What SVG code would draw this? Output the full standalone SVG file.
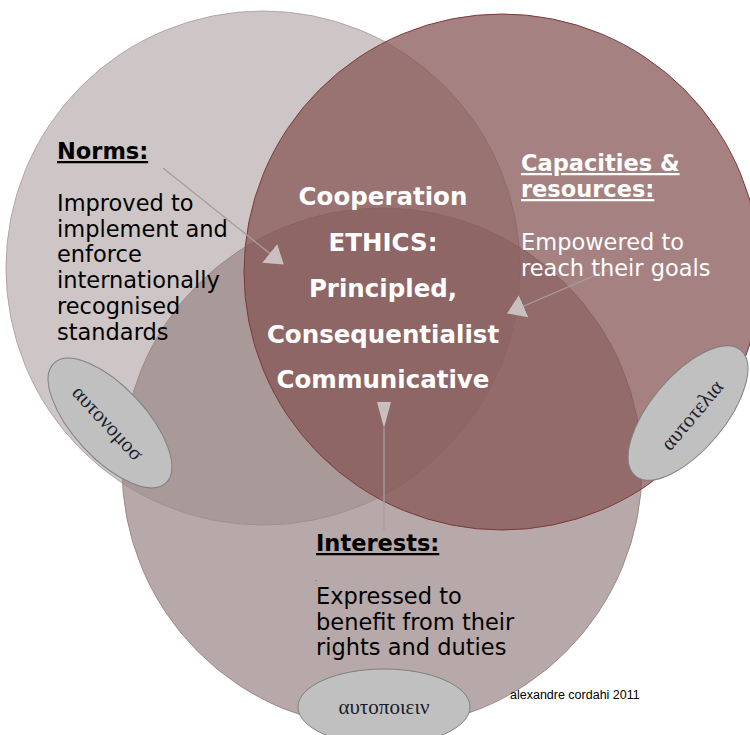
<svg xmlns="http://www.w3.org/2000/svg" width="750" height="735" viewBox="0 0 750 735">
<style>
.lbl{font-family:"DejaVu Sans","Verdana",sans-serif;font-size:22.5px;fill:#000}
.head{font-family:"DejaVu Sans","Verdana",sans-serif;font-size:22.5px;font-weight:bold;text-decoration:underline}
.ctr{font-family:"DejaVu Sans","Verdana",sans-serif;font-size:24.5px;font-weight:bold;fill:#fff;text-anchor:middle}
.wht{fill:#fff}
.greek{font-family:"Liberation Serif","DejaVu Serif",serif;font-size:21px;fill:#1c1c2c;text-anchor:middle}
.oval{fill:#c0c0c0;stroke:#808080;stroke-width:1}
.conn{stroke:#a89c9c;stroke-width:1.3;fill:none}
.ah{fill:#c9bfbf}
</style>
<defs>
<marker id="arr" viewBox="0 0 18 24" refX="17" refY="12" markerWidth="18" markerHeight="24" markerUnits="userSpaceOnUse" orient="auto">
<path d="M0,0 L18,12 L0,24 z" class="ah"/>
</marker>
</defs>
<g id="circle-norms"><circle cx="263" cy="268" r="257" fill="#cec6c6" stroke="#b3a6a6" stroke-width="1"/></g>
<g id="circle-interests"><circle cx="382" cy="468" r="260" fill="#9a8686" fill-opacity="0.71" stroke="#a08888" stroke-width="1"/></g>
<g id="circle-capacities"><circle cx="502" cy="272" r="258" fill="#845452" fill-opacity="0.73" stroke="#7d3a3a" stroke-width="1"/></g>

<g id="connectors">
<line class="conn" x1="163" y1="168" x2="283" y2="264" marker-end="url(#arr)"/>
<line class="conn" x1="612" y1="268" x2="508" y2="313" marker-end="url(#arr)"/>
<line class="conn" x1="384" y1="428" x2="384" y2="530"/>
<polygon class="ah" points="377,402 391,402 384,428"/>
</g>

<g id="norms">
<text class="head" x="57" y="159">Norms:</text>
<text class="lbl" x="57" y="211">Improved to</text>
<text class="lbl" x="57" y="237">implement and</text>
<text class="lbl" x="57" y="262">enforce</text>
<text class="lbl" x="57" y="288">internationally</text>
<text class="lbl" x="57" y="314">recognised</text>
<text class="lbl" x="57" y="340">standards</text>
</g>

<g id="capacities">
<text class="head wht" x="521" y="171">Capacities &amp;</text>
<text class="head wht" x="521" y="197">resources:</text>
<text class="lbl wht" x="521" y="250">Empowered to</text>
<text class="lbl wht" x="521" y="276">reach their goals</text>
</g>

<g id="center">
<text class="ctr" x="383" y="205">Cooperation</text>
<text class="ctr" x="383" y="251">ETHICS:</text>
<text class="ctr" x="383" y="297">Principled,</text>
<text class="ctr" x="383" y="343">Consequentialist</text>
<text class="ctr" x="383" y="388">Communicative</text>
</g>

<g id="interests">
<text class="head" x="316" y="551">Interests:</text>
<text class="lbl" x="315" y="581" style="font-size:6px">.</text>
<text class="lbl" x="316" y="604">Expressed to</text>
<text class="lbl" x="316" y="630">benefit from their</text>
<text class="lbl" x="316" y="655">rights and duties</text>
</g>

<g id="oval-autonomos">
<ellipse class="oval" cx="110" cy="423" rx="82" ry="36" transform="rotate(47 110 423)"/>
<text class="greek" x="108" y="430" transform="rotate(47 108 423)">αυτονομοσ</text>
</g>
<g id="oval-autotelia">
<ellipse class="oval" cx="688" cy="413" rx="82" ry="37" transform="rotate(-50 688 413)"/>
<text class="greek" x="692" y="422" transform="rotate(-50 692 415)">αυτοτελια</text>
</g>
<g id="oval-autopoiein">
<ellipse class="oval" cx="384" cy="707" rx="86" ry="38"/>
<text class="greek" x="384" y="714">αυτοποιειν</text>
</g>

<g id="credit">
<text x="510" y="699" style="font-family:'Liberation Sans',Arial,sans-serif;font-size:12.5px;fill:#000">alexandre cordahi 2011</text>
</g>
</svg>
